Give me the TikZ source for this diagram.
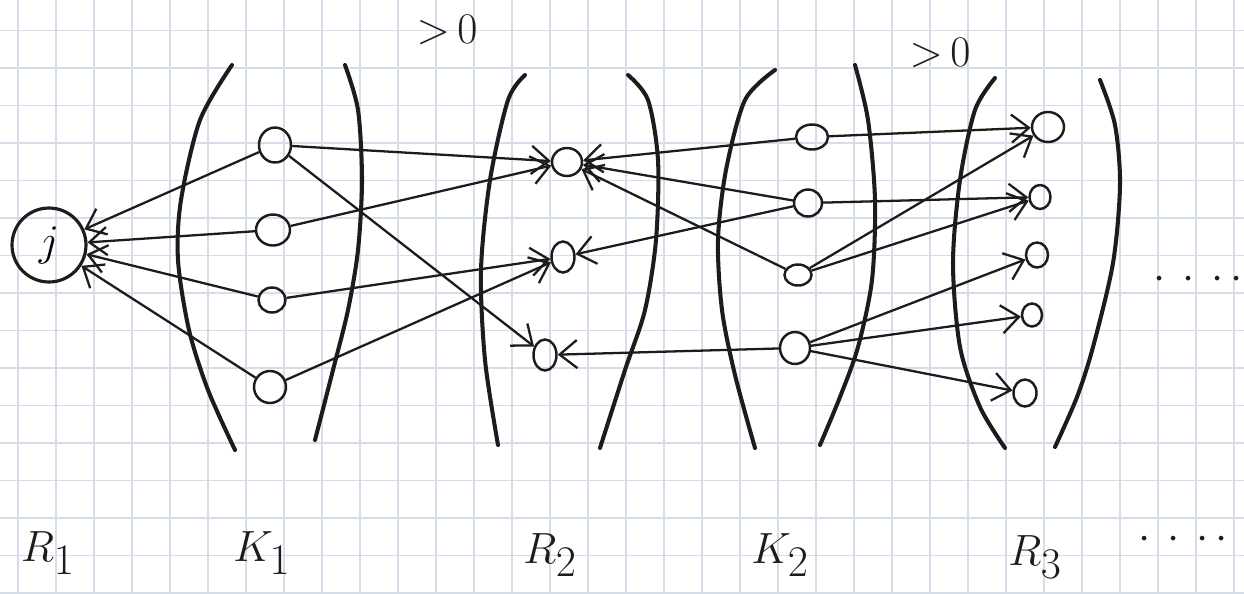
\documentclass[tikz,border=0pt]{standalone}
\usepackage{amsmath,amssymb}
\usepackage{tikz}
\usetikzlibrary{arrows.meta,shapes.geometric}
\definecolor{gridline}{RGB}{212,221,233}
\definecolor{pen}{RGB}{28,28,28}
\tikzset{
  vtx/.style={ellipse,draw=pen,line width=1.4pt,inner sep=0pt},
  wall/.style={pen,line width=2.3pt,line cap=round},
  link/.style={pen,line width=1.3pt,-{Straight Barb[length=10pt,width=16pt,line width=1.3pt]}},
  layerlabel/.style={font=\fontsize{36}{40}\selectfont,text=pen},
}
\newcommand{\layernode}[5]{%
  % width and height are given in pixels of the sheet
  \node[vtx,minimum width=#4*0.02cm,minimum height=#5*0.02cm] (#1) at (#2,#3) {};
}

\begin{document}
\begin{tikzpicture}[x=0.02cm,y=-0.02cm]
    \useasboundingbox (0,0) rectangle (1244,593);
    \fill[white] (0,0) rectangle (1244,593);
    \foreach \i in {0,...,32}
      \draw[gridline,line width=0.7pt] (18+38*\i,0) -- ++(0,593);
    \foreach \i in {0,...,15}
      \draw[gridline,line width=0.7pt] (0,30.5+37.5*\i) -- ++(1244,0);

    % layer borders
    \draw[wall] plot[smooth] coordinates {(232,65) (200,120) (181,200) (178,260) (189,330) (208,390) (235,450)};
    \draw[wall] plot[smooth] coordinates {(345,65) (358,110) (362,180) (358,250) (348,310) (333,370) (315,440)};
    \draw[wall] plot[smooth] coordinates {(525,75) (508,100) (490,180) (481,270) (485,360) (498,445)};
    \draw[wall] plot[smooth] coordinates {(628,75) (648,100) (658,160) (656,240) (645,310) (625,370) (600,448)};
    \draw[wall] plot[smooth] coordinates {(775,70) (745,100) (726,170) (718,240) (722,310) (735,375) (755,448)};
    \draw[wall] plot[smooth] coordinates {(855,65) (868,120) (875,200) (872,280) (858,347) (840,397) (820,445)};
    \draw[wall] plot[smooth] coordinates {(995,78) (975,110) (960,180) (953,263) (960,347) (980,407) (1005,448)};
    \draw[wall] plot[smooth] coordinates {(1100,80) (1115,125) (1120,185) (1113,263) (1093,347) (1077,397) (1055,447)};

    \node[vtx,circle,minimum size=1.48cm,line width=1.8pt,font=\fontsize{28}{30}\selectfont] (j) at (49,245) {$j$};

    \layernode{k1a}{275}{145}{32}{35}
    \layernode{k1b}{273}{230}{34}{31}
    \layernode{k1c}{272}{300}{27}{25}
    \layernode{k1d}{270}{387}{32}{32}

    \layernode{r2a}{567}{162}{30}{28}
    \layernode{r2b}{563}{257}{23}{31}
    \layernode{r2c}{545}{355}{23}{31}

    \layernode{k2a}{812}{137}{32}{25}
    \layernode{k2b}{808}{203}{28}{27}
    \layernode{k2c}{798}{275}{27}{21}
    \layernode{k2d}{795}{348}{30}{32}

    \layernode{r3a}{1048}{127}{32}{30}
    \layernode{r3b}{1040}{197}{21}{24}
    \layernode{r3c}{1037}{255}{22}{25}
    \layernode{r3d}{1032}{315}{20}{23}
    \layernode{r3e}{1025}{393}{23}{27}

    \foreach \s in {k1a,k1b,k1c,k1d}
      \draw[link] (\s) -- (j);
    \draw[link] (k1a) -- (r2a);
    \draw[link] (k1b) -- (r2a);
    \draw[link] (k1a) -- (r2c);
    \draw[link] (k1c) -- (r2b);
    \draw[link] (k1d) -- (r2b);

    \draw[link] (k2a) -- (r2a);
    \draw[link] (k2b) -- (r2a);
    \draw[link] (k2c) -- (r2a);
    \draw[link] (k2b) -- (r2b);
    \draw[link] (k2d) -- (r2c);

    \draw[link] (k2a) -- (r3a);
    \draw[link] (k2b) -- (r3b);
    \draw[link] (k2c) -- (r3a);
    \draw[link] (k2c) -- (r3b);
    \draw[link] (k2d) -- (r3c);
    \draw[link] (k2d) -- (r3d);
    \draw[link] (k2d) -- (r3e);

    \node[font=\fontsize{24}{28}\selectfont,text=pen] (pos1) at (447,30) {$\mathord{>}\,0$};
    \node[font=\fontsize{24}{28}\selectfont,text=pen] (pos2) at (940,53) {$\mathord{>}\,0$};
    \node[font=\fontsize{30}{32}\selectfont,text=pen,inner sep=0pt] (more) at (1198,280) {$\cdot\,\cdot\,\cdot\,\cdot$};

    \node[layerlabel] (lR1) at (48,553) {$R_1$};
    \node[layerlabel] (lK1) at (262,553) {$K_1$};
    \node[layerlabel] (lR2) at (550,555) {$R_2$};
    \node[layerlabel] (lK2) at (780,555) {$K_2$};
    \node[layerlabel] (lR3) at (1035,557) {$R_3$};
    \node[font=\fontsize{30}{32}\selectfont,text=pen,inner sep=0pt] (etc) at (1183,540) {$\cdot\,\cdot\,\cdot\,\cdot$};
\end{tikzpicture}
\end{document}
